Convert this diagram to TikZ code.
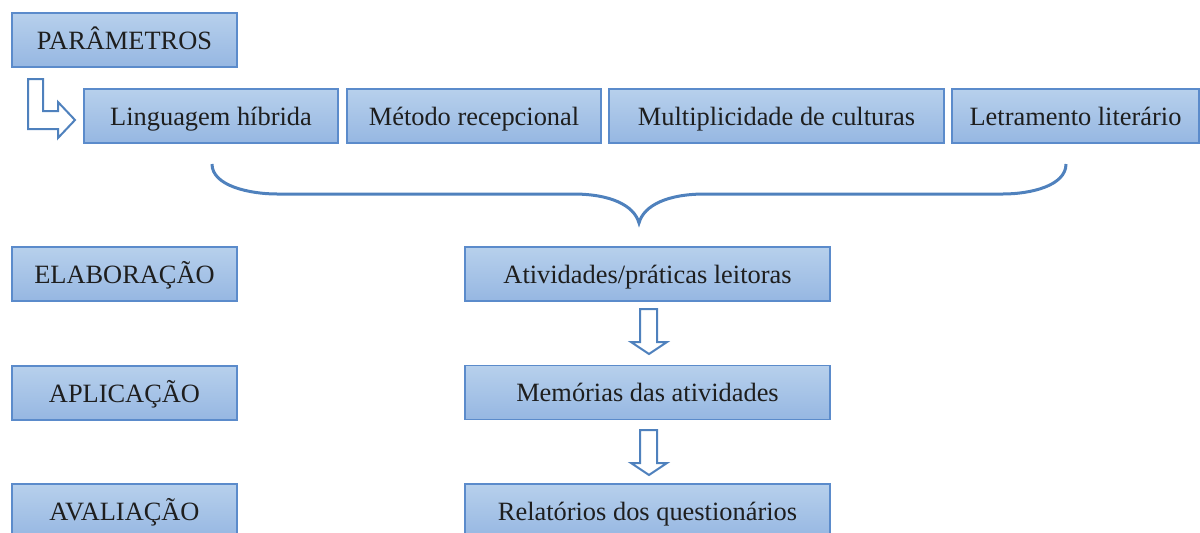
\documentclass[tikz,border=0pt]{standalone}
\usepackage{fontspec}
\setmainfont{Liberation Serif}
\definecolor{bordc}{HTML}{5B8BCB}
\definecolor{topc}{HTML}{B7D0EC}
\definecolor{botc}{HTML}{96B7E2}
\definecolor{linec}{HTML}{4F81BD}
\definecolor{txtc}{HTML}{1E1E1E}
\begin{document}
\begin{tikzpicture}[x=1pt,y=-1pt,
  box/.style={draw=bordc, line width=1.2pt, top color=topc, bottom color=botc,
    text=txtc, inner sep=0pt, text height=20pt, text depth=2pt,
    font=\fontsize{26.4}{30}\selectfont},
  hollow/.style={draw=linec, line width=2pt, fill=white, line join=miter},
  bracec/.style={draw=linec, line width=3pt}]
\useasboundingbox (0,0) rectangle (1200,533);
% left column
\node[box, minimum width=225pt, minimum height=54pt] (par) at (124.5,40) {PARÂMETROS};
\node[box, minimum width=225pt, minimum height=54pt] (ela) at (124.5,274) {ELABORAÇÃO};
\node[box, minimum width=225pt, minimum height=54pt] (apl) at (124.5,393) {APLICAÇÃO};
\node[box, minimum width=225pt, minimum height=54pt] (ava) at (124.5,511) {AVALIAÇÃO};
% parameters row
\node[box, minimum width=254pt, minimum height=54pt] (p1) at (211,116) {Linguagem híbrida};
\node[box, minimum width=254pt, minimum height=54pt] (p2) at (474,116) {Método recepcional};
\node[box, minimum width=335pt, minimum height=54pt] (p3) at (776.5,116) {Multiplicidade de culturas};
\node[box, minimum width=247pt, minimum height=54pt] (p4) at (1075.5,116) {Letramento literário};
% right column
\node[box, minimum width=365pt, minimum height=54pt] (a1) at (647.5,274) {Atividades/práticas leitoras};
\node[box, minimum width=365pt, minimum height=54pt] (a2) at (647.5,392.5) {Memórias das atividades};
\node[box, minimum width=365pt, minimum height=54pt] (a3) at (647.5,511) {Relatórios dos questionários};
% L-shaped arrow
\draw[hollow] (28,79) -- (43,79) -- (43,111) -- (58,111) -- (58,102) -- (75,120)
  -- (58,138) -- (58,129) -- (28,129) -- cycle;
% down arrows
\draw[hollow] (640,309) -- (657,309) -- (657,342) -- (667,342) -- (649,354)
  -- (631,342) -- (640,342) -- cycle;
\draw[hollow] (640,430) -- (657,430) -- (657,463) -- (667,463) -- (649,475)
  -- (631,463) -- (640,463) -- cycle;
% brace
\draw[bracec] (212,164) .. controls (212,186) and (250,194) .. (277,194)
  -- (573,194) .. controls (610,194) and (634,205) .. (639,223)
  .. controls (644,205) and (668,194) .. (705,194)
  -- (1003,194) .. controls (1030,194) and (1066,186) .. (1066,164);
\end{tikzpicture}
\end{document}
